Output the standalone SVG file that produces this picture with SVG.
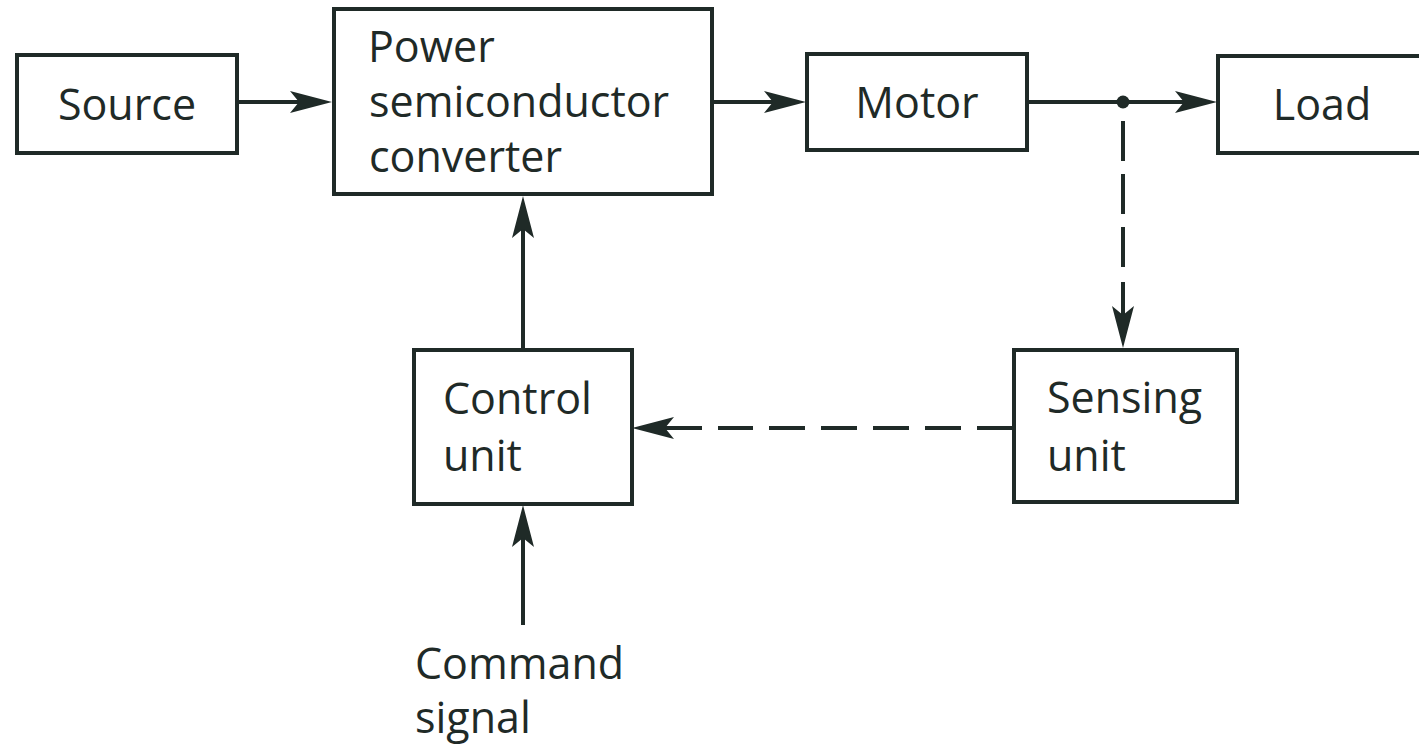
<svg xmlns="http://www.w3.org/2000/svg" width="1419" height="746" viewBox="0 0 1419 746">
  <style>
    .box { fill: #ffffff; stroke: #1f2a27; stroke-width: 4; }
    .lbl { font-family: "Open Sans", "DejaVu Sans", sans-serif; font-size: 43px; fill: #1f2a27; }
    .mid { text-anchor: middle; }
    .wire { fill: none; stroke: #1f2a27; stroke-width: 4; }
    .dash1 { stroke-dasharray: 40 13; }
    .dash2 { stroke-dasharray: 36 16; }
  </style>
  <defs>
    <marker id="arrow" markerUnits="userSpaceOnUse" viewBox="0 0 42 24" markerWidth="42" markerHeight="24" refX="27" refY="12" orient="auto">
      <path d="M0,1 L42,12 L0,23 L9,12 Z" fill="#1f2a27"/>
    </marker>
  </defs>
  <rect width="1419" height="746" fill="#ffffff"/>

  <g id="connectors">
    <path class="wire" d="M237,102 L317,102" marker-end="url(#arrow)"/>
    <path class="wire" d="M712,102 L791,102" marker-end="url(#arrow)"/>
    <path class="wire" d="M1027,102 L1202,102" marker-end="url(#arrow)"/>
    <circle cx="1123" cy="102" r="6.5" fill="#1f2a27"/>
    <path class="wire dash1" d="M1123,267 L1123,102"/>
    <path class="wire" d="M1123,282 L1123,333" marker-end="url(#arrow)"/>
    <path class="wire dash2" d="M1013,428 L718,428"/>
    <path class="wire" d="M702,428 L647,428" marker-end="url(#arrow)"/>
    <path class="wire" d="M523,350 L523,211" marker-end="url(#arrow)"/>
    <path class="wire" d="M523,625 L523,520" marker-end="url(#arrow)"/>
  </g>

  <g id="source">
    <rect class="box" x="17" y="55" width="220" height="98"/>
    <text class="lbl mid" x="127" y="120">Source</text>
  </g>

  <g id="converter">
    <rect class="box" x="334" y="9" width="378" height="185"/>
    <text class="lbl" x="368" y="62">Power</text>
    <text class="lbl" x="369" y="117">semiconductor</text>
    <text class="lbl" x="369" y="172">converter</text>
  </g>

  <g id="motor">
    <rect class="box" x="807" y="54" width="220" height="96"/>
    <text class="lbl mid" x="917" y="118">Motor</text>
  </g>

  <g id="load">
    <rect class="box" x="1218" y="56" width="230" height="97"/>
    <text class="lbl mid" x="1322" y="120">Load</text>
  </g>

  <g id="sensing">
    <rect class="box" x="1014" y="350" width="223" height="152"/>
    <text class="lbl" x="1047" y="413">Sensing</text>
    <text class="lbl" x="1047" y="471">unit</text>
  </g>

  <g id="control">
    <rect class="box" x="414" y="350" width="218" height="154"/>
    <text class="lbl" x="443" y="414">Control</text>
    <text class="lbl" x="443" y="471">unit</text>
  </g>

  <g id="command">
    <text class="lbl" x="415" y="679">Command</text>
    <text class="lbl" x="415" y="733">signal</text>
  </g>
</svg>
